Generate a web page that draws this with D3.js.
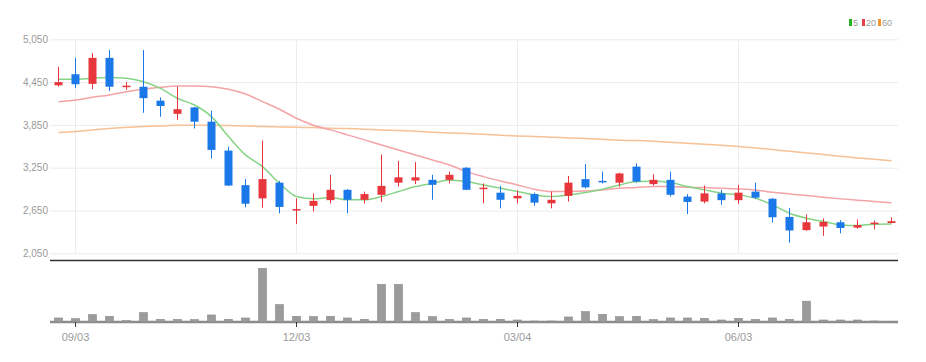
<html>
    <head>
        <meta charset="utf-8">
        <script src="https://d3js.org/d3.v7.min.js"></script>
        <title>weekly chart</title>
    </head>
    <style>
        body{
            margin: 0;
            background: #fff;
        }
        text{
            font-family: "Liberation Sans Narrow", "Liberation Sans", sans-serif;
            fill: #9a9a9a;
        }
        .gridlines line{
            stroke: #ececec;
        }
        .gridlines .domain{
            stroke: none;
        }
    </style>
    <body>
        <svg id="svg1"></svg>
        <script>
            // weekly candles (Mon)
            const dates = ["2018-08-27","2018-09-03","2018-09-10","2018-09-17","2018-09-24","2018-10-01","2018-10-08","2018-10-15","2018-10-22","2018-10-29",
                           "2018-11-05","2018-11-12","2018-11-19","2018-11-26","2018-12-03","2018-12-10","2018-12-17","2018-12-24","2018-12-31","2019-01-07",
                           "2019-01-14","2019-01-21","2019-01-28","2019-02-04","2019-02-11","2019-02-18","2019-02-25","2019-03-04","2019-03-11","2019-03-18",
                           "2019-03-25","2019-04-01","2019-04-08","2019-04-15","2019-04-22","2019-04-29","2019-05-06","2019-05-13","2019-05-20","2019-05-27",
                           "2019-06-03","2019-06-10","2019-06-17","2019-06-24","2019-07-01","2019-07-08","2019-07-15","2019-07-22","2019-07-29","2019-08-05"];
            const open  = [4405,4560,4425,4790,4385,4385,4190,4005,4095,3895, 3490,3005,2820,3040,2655,2715,2795,2940,2800,2870,
                           3040,3070,3080,3080,3250,2950,2900,2820,2880,2750, 2855,3090,3065,3040,3265,3020,3080,2845,2775,2890,
                           2795,2915,2815,2560,2375,2425,2485,2410,2460,2475];
            const high  = [4665,4790,4855,4900,4450,4900,4235,4385,4100,4050, 3545,3090,3630,3065,2820,2890,3150,2950,2915,3435,
                           3345,3330,3150,3195,3255,3030,2995,2930,2900,2915, 3135,3300,3195,3180,3310,3160,3195,2880,3000,2940,
                           3010,3040,2825,2685,2595,2540,2515,2525,2510,2555];
            const low   = [4385,4365,4350,4325,4340,4020,3965,3920,3800,3380, 2995,2695,2690,2610,2460,2635,2750,2610,2750,2770,
                           2985,3020,2800,3030,2935,2750,2680,2750,2715,2680, 2775,2960,3030,2985,3040,3000,2845,2600,2750,2730,
                           2745,2815,2485,2200,2365,2295,2330,2395,2385,2470];
            const close = [4450,4420,4790,4385,4400,4225,4115,4070,3895,3500, 3000,2745,3090,2700,2670,2785,2940,2800,2880,2995,
                           3115,3115,3010,3150,2940,2970,2800,2855,2760,2800, 3040,2975,3045,3170,3055,3080,2870,2770,2890,2795,
                           2900,2830,2555,2370,2485,2490,2405,2445,2480,2500];
            const volume = [120,100,220,170,40,280,80,80,70,210, 80,120,1600,520,170,160,170,120,80,1120,
                            1120,280,160,80,120,80,80,60,30,30, 150,310,230,160,170,70,120,120,110,60,
                            110,80,120,80,620,60,60,60,30,5];

            // moving averages
            const ma5  = [4489,4489,4503,4513,4503,4456,4363,4223,4129,3966, 3686,3429,3265,3031,2845,2813,2832,2799,2799,2845,
                          2916,2986,3031,3078,3055,3008,2962,2916,2869,2845, 2869,2902,2948,3008,3055,3060,3041,2986,2939,2892,
                          2869,2822,2729,2611,2541,2495,2448,2439,2458,2462];
            const ma20 = [4176,4200,4237,4270,4316,4349,4377,4396,4396,4386, 4349,4284,4176,4069,3943,3845,3780,3710,3640,3569,
                          3499,3429,3359,3288,3195,3125,3064,3008,2948,2916, 2916,2925,2939,2962,2972,2986,2986,2976,2972,2962,
                          2953,2939,2906,2883,2859,2836,2813,2794,2776,2757];
            const ma60 = [3742,3756,3780,3798,3817,3827,3836,3845,3845,3845, 3840,3836,3827,3822,3817,3812,3803,3798,3789,3780,
                          3770,3761,3747,3737,3728,3719,3705,3695,3686,3677, 3667,3658,3649,3635,3630,3621,3607,3593,3579,3565,
                          3546,3527,3504,3480,3457,3434,3410,3387,3368,3349];

            const priceTicks = [2050, 2650, 3250, 3850, 4450, 5050];
            const tickDates  = ["2018-09-03", "2018-12-03", "2019-03-04", "2019-06-03"];
            const tickLabels = ["09/03", "12/03", "03/04", "06/03"];
            const legendNames  = ["5", "20", "60"];
            const legendColors = ["#22b522", "#e8404a", "#f0922e"];

            const width = 926;
            const height = 362;
            const upColor = "#e8363d";
            const downColor = "#1a78e8";
            const lineColors = ["#86d486", "#f4a3a6", "#f6c196"];

            let svg1 = d3.select("svg#svg1")
                         .attr("width", width)
                         .attr("height", height);

            const left = 50, right = 900;
            const priceTop = 39.3, priceBottom = 253.3;
            const volTop = 268.3, volBottom = 322;

            // scales
            const scaleX = d3.scaleBand()
                             .domain(dates)
                             .range([left, right]);
            const xc = d => scaleX(d) + scaleX.bandwidth() / 2;
            const scalePrice = d3.scaleLinear()
                                 .domain([2050, 5050])
                                 .range([priceBottom, priceTop]);
            const scaleVol = d3.scaleLinear()
                               .domain([0, d3.max(volume)])
                               .range([volBottom, volTop]);

            let annotations = svg1.append("g").attr("id", "annotations");
            let chartArea = svg1.append("g").attr("id", "chart");

            // y gridlines + labels
            let leftGridlines = d3.axisLeft(scalePrice)
                                  .tickValues(priceTicks)
                                  .tickSize(-(898 - left))
                                  .tickFormat("");
            annotations.append("g")
                       .attr("class", "gridlines")
                       .attr("transform", `translate(${left}, 0)`)
                       .call(leftGridlines);

            let leftAxis = d3.axisLeft(scalePrice)
                             .tickValues(priceTicks)
                             .tickSize(0)
                             .tickPadding(2)
                             .tickFormat(d3.format(","));
            annotations.append("g")
                       .attr("class", "y axis")
                       .attr("transform", `translate(${left}, 0)`)
                       .call(leftAxis)
                       .call(g => g.select(".domain").remove())
                       .selectAll("text")
                       .style("font-size", "10px")
                       .attr("fill", "#9a9a9a");

            // vertical gridlines at the date ticks
            annotations.append("g")
                       .attr("class", "gridlines")
                       .selectAll("line")
                       .data(tickDates)
                       .join("line")
                       .attr("x1", d => xc(d))
                       .attr("x2", d => xc(d))
                       .attr("y1", priceTop)
                       .attr("y2", priceBottom);

            // separator line under the price panel
            annotations.append("line")
                       .attr("x1", left)
                       .attr("x2", 898)
                       .attr("y1", 260.5)
                       .attr("y2", 260.5)
                       .attr("stroke", "#333")
                       .attr("stroke-width", 1.6);

            // moving averages
            const maSeries = [ma60, ma20, ma5];
            const maColors = [lineColors[2], lineColors[1], lineColors[0]];
            var lineGen = d3.line()
                            .x((d, i) => xc(dates[i]))
                            .y(d => scalePrice(d))
                            .curve(d3.curveMonotoneX);
            chartArea.selectAll("path.ma")
                     .data(maSeries)
                     .join("path")
                     .attr("class", "ma")
                     .attr("fill", "none")
                     .attr("stroke", (d, i) => maColors[i])
                     .attr("stroke-width", 1.5)
                     .attr("d", d => lineGen(d));

            // candles
            const idx = d3.range(dates.length);
            const candleColor = i => close[i] >= open[i] ? upColor : downColor;
            let candles = chartArea.selectAll("g.candle")
                                   .data(idx)
                                   .join("g")
                                   .attr("class", "candle");
            candles.append("line")
                   .attr("x1", i => xc(dates[i]))
                   .attr("x2", i => xc(dates[i]))
                   .attr("y1", i => scalePrice(high[i]))
                   .attr("y2", i => scalePrice(low[i]))
                   .attr("stroke", candleColor)
                   .attr("stroke-width", 1);
            candles.append("rect")
                   .attr("x", i => xc(dates[i]) - 4)
                   .attr("width", 8)
                   .attr("y", i => scalePrice(Math.max(open[i], close[i])))
                   .attr("height", i => Math.max(1.5, Math.abs(scalePrice(open[i]) - scalePrice(close[i]))))
                   .attr("fill", candleColor);

            // volume
            chartArea.selectAll("rect.vol")
                     .data(idx)
                     .join("rect")
                     .attr("class", "vol")
                     .attr("x", i => xc(dates[i]) - 4)
                     .attr("width", 8)
                     .attr("y", i => scaleVol(volume[i]))
                     .attr("height", i => volBottom - scaleVol(volume[i]))
                     .attr("fill", "#9b9b9b")
                     .attr("stroke", "#8a8a8a")
                     .attr("stroke-width", 0.6);

            annotations.append("line")
                       .attr("x1", left)
                       .attr("x2", 898)
                       .attr("y1", volBottom)
                       .attr("y2", volBottom)
                       .attr("stroke", "#8c8c8c")
                       .attr("stroke-width", 2.5);

            // x axis
            let botAxis = d3.axisBottom(scaleX)
                            .tickValues(tickDates)
                            .tickSize(5)
                            .tickPadding(6)
                            .tickFormat((d, i) => tickLabels[i]);
            let xg = svg1.append("g")
                         .attr("class", "x axis")
                         .attr("transform", `translate(0, ${volBottom})`)
                         .call(botAxis);
            xg.select(".domain").remove();
            xg.selectAll("line").attr("stroke", "#333");
            xg.selectAll("text")
              .style("font-size", "11px")
              .attr("fill", "#9a9a9a");

            // legend
            const legendX = [849, 862, 878];
            let legend = svg1.append("g").attr("id", "legend");
            legend.selectAll("rect")
                  .data(legendNames)
                  .join("rect")
                  .attr("x", (d, i) => legendX[i])
                  .attr("y", 19)
                  .attr("width", 3)
                  .attr("height", 7)
                  .attr("fill", (d, i) => legendColors[i]);
            legend.selectAll("text")
                  .data(legendNames)
                  .join("text")
                  .attr("x", (d, i) => legendX[i] + 4)
                  .attr("y", 26)
                  .style("font-size", "9px")
                  .attr("fill", "#9a9a9a")
                  .text(d => d);
        </script>
    </body>
</html>
